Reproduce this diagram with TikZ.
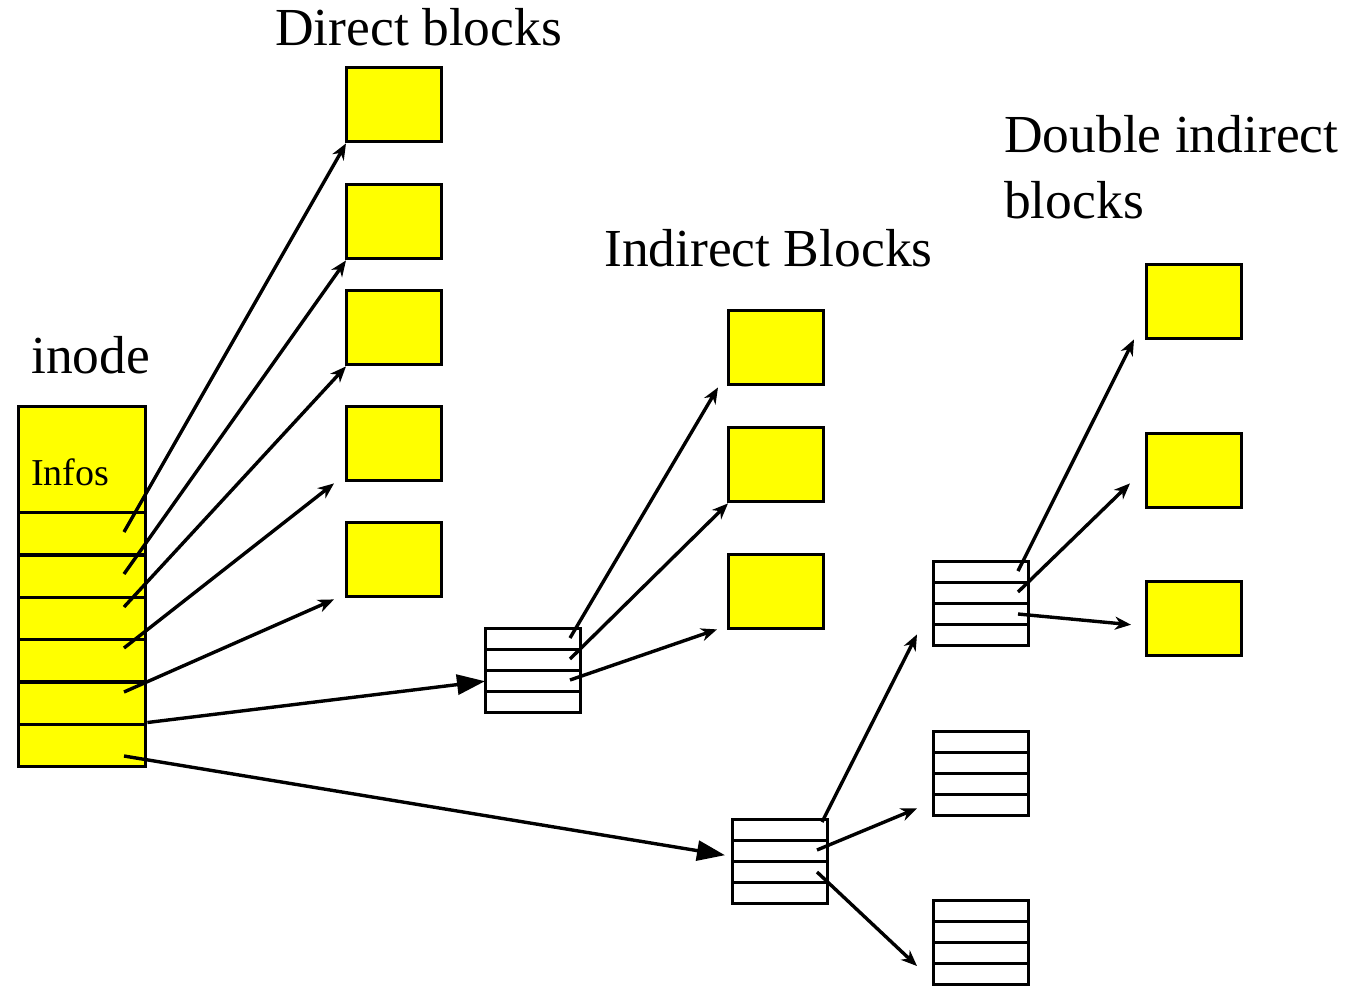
\documentclass[tikz,border=0pt]{standalone}
\usepackage{fontspec}
\setmainfont{Liberation Serif}
\usetikzlibrary{arrows.meta,calc}
\definecolor{blockyellow}{RGB}{255,255,0}
\tikzset{
  lw/.style={line width=3.4pt},
  blk/.style={lw, draw, fill=blockyellow, minimum width=95pt, minimum height=74pt, inner sep=0pt, anchor=north west},
  rowbox/.style={lw, draw, fill=white, minimum width=95pt, minimum height=21pt, inner sep=0pt, anchor=north west},
  slot/.style={lw, draw, fill=blockyellow, minimum width=127pt, minimum height=42.3pt, inner sep=0pt, anchor=north west},
  ptr/.style={lw, -{Stealth[length=16pt,width=13pt,inset=5pt]}},
  bigptr/.style={lw, -{Triangle[length=28pt,width=20pt]}},
  title/.style={anchor=base west, inner sep=0pt, font=\fontsize{53.5}{60}\selectfont}
}
\begin{document}
\begin{tikzpicture}[x=1pt,y=-1pt]
\useasboundingbox (0,0) rectangle (1359,985);

% labels
\node[title] (tdirect) at (275,45) {Direct blocks};
\node[title] (tinode) at (31,373) {inode};
\node[title] (tindirect) at (604,266) {Indirect Blocks};
\node[title] (tdouble1) at (1004,152) {Double indirect};
\node[title] (tdouble2) at (1004,218) {blocks};

% inode: info area and six pointer slots
\node[lw, draw, fill=blockyellow, minimum width=127pt, minimum height=106pt, inner sep=0pt, anchor=north west] (info) at (17,405) {};
\node[anchor=base west, inner sep=0pt, font=\fontsize{38}{44}\selectfont] (tinfos) at (31,485) {Infos};
\foreach \i in {1,...,6}
  \node[slot] (s\i) at (17,{511+42.3*(\i-1)}) {};

% direct data blocks
\node[blk] (d1) at (345,66) {};
\node[blk] (d2) at (345,183) {};
\node[blk] (d3) at (345,289) {};
\node[blk] (d4) at (345,405) {};
\node[blk] (d5) at (345,521) {};

% data blocks reached through the single indirect block
\node[blk] (i1) at (727,309) {};
\node[blk] (i2) at (727,426) {};
\node[blk] (i3) at (727,553) {};

% data blocks reached through the double indirect chain
\node[blk] (x1) at (1145,263) {};
\node[blk] (x2) at (1145,432) {};
\node[blk] (x3) at (1145,580) {};

% pointer tables
\foreach \t/\x/\y in {A/484/627, B/731/818, U/932/560, V/932/730, W/932/899}
  \foreach \r in {1,...,4}
    \node[rowbox] (\t\r) at (\x,{\y+21*(\r-1)}) {};

% pointer origins
\coordinate (a1) at (124,532);
\coordinate (a2) at (124,574);
\coordinate (a3) at (124,607);
\coordinate (a4) at (124,648);
\coordinate (a5) at (124,692);
\coordinate (a7) at (124,756);
\coordinate (b1) at (570,638);
\coordinate (b2) at (570,659);
\coordinate (b3) at (570,680);
\coordinate (c1) at (822,822);
\coordinate (c2) at (817,850);
\coordinate (c3) at (817,872);
\coordinate (e1) at (1018,571);
\coordinate (e2) at (1018,592);
\coordinate (e3) at (1018,614);

% direct pointers
\draw[ptr] (a1) -- ($(d1.south west)+(1,0)$);
\draw[ptr] (a2) -- ($(d2.south west)+(1,0)$);
\draw[ptr] (a3) -- ($(d3.south west)+(1,0)$);
\draw[ptr] (a4) -- ($(d4.south west)+(-11,1)$);
\draw[ptr] (a5) -- ($(d5.south west)+(-11,1)$);

% indirect and double indirect pointers
\draw[bigptr] (s6.north east) -- ($(A3.west)+(1,0)$);
\draw[bigptr] (a7) -- ($(B2.west)+(-6,4)$);

% single indirect block entries
\draw[ptr] (b1) -- ($(i1.south west)+(-9,1)$);
\draw[ptr] (b2) -- ($(i2.south west)+(1,0)$);
\draw[ptr] (b3) -- ($(i3.south west)+(-10,-1)$);

% first level of the double indirect chain
\draw[ptr] (c1) -- ($(U4.south west)+(-15,-13)$);
\draw[ptr] (c2) -- ($(V4.south west)+(-15,-9)$);
\draw[ptr] (c3) -- ($(W4.north west)+(-15,4)$);

% second level of the double indirect chain
\draw[ptr] (e1) -- ($(x1.south west)+(-11,-1)$);
\draw[ptr] (e2) -- ($(x2.south west)+(-15,-26)$);
\draw[ptr] (e3) -- ($(x3.west)+(-14,6)$);
\end{tikzpicture}
\end{document}
